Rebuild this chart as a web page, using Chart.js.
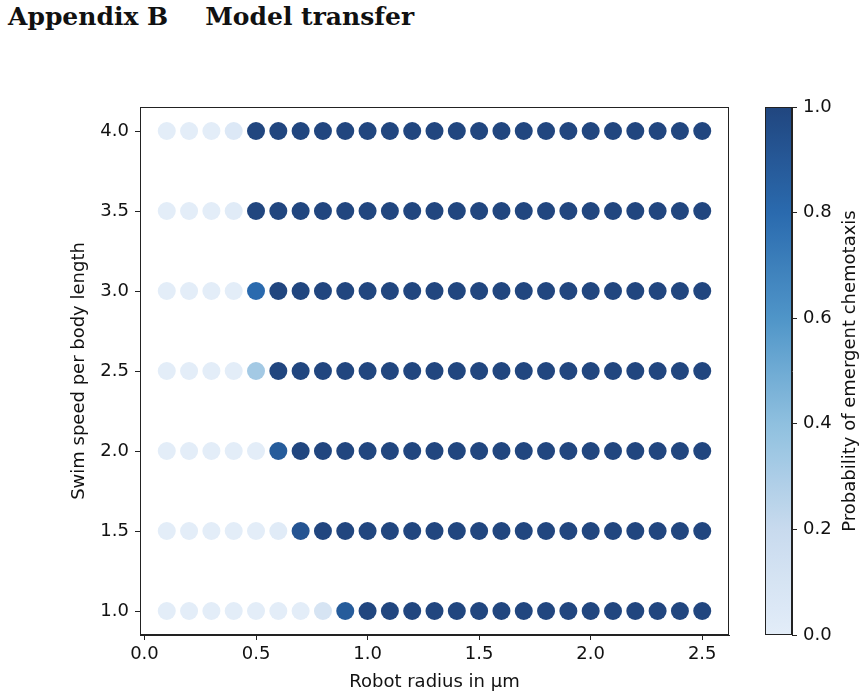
<!DOCTYPE html>
<html>
<head>
<meta charset="utf-8">
<script src="https://cdn.jsdelivr.net/npm/chart.js@4/dist/chart.umd.min.js"></script>
<style>
  body { margin: 0; background: #fff; width: 865px; height: 697px; position: relative; overflow: hidden; }
  #heading { position: absolute; left: 8px; top: 2px; margin: 0; font: bold 25px "DejaVu Serif", serif; color: #111; white-space: nowrap; }
  #heading span { margin-right: 37px; }
  #main { position: absolute; left: 0; top: 0; }
  #cbar { position: absolute; left: 740px; top: 0; }
</style>
</head>
<body>
<h1 id="heading"><span>Appendix B</span>Model transfer</h1>
<canvas id="main" width="760" height="697"></canvas>
<canvas id="cbar" width="125" height="697"></canvas>
<script>
// robot radius (x) and swim speed (y)
var radius = [0.1,0.2,0.3,0.4,0.5,0.6,0.7,0.8,0.9,1.0,1.1,1.2,1.3,1.4,1.5,1.6,1.7,1.8,1.9,2.0,2.1,2.2,2.3,2.4,2.5];
var speeds = [1.0,1.5,2.0,2.5,3.0,3.5,4.0];
// probability of emergent chemotaxis, one row per swim speed
var p10 = [0,0,0,0,0,0,0,0.1,0.88,1,1,1,1,1,1,1,1,1,1,1,1,1,1,1,1];
var p15 = [0,0,0,0,0,0.02,0.92,1,1,1,1,1,1,1,1,1,1,1,1,1,1,1,1,1,1];
var p20 = [0,0,0,0,0,0.88,1,1,1,1,1,1,1,1,1,1,1,1,1,1,1,1,1,1,1];
var p25 = [0,0,0,0,0.33,1,1,1,1,1,1,1,1,1,1,1,1,1,1,1,1,1,1,1,1];
var p30 = [0,0,0,0,0.8,1,1,1,1,1,1,1,1,1,1,1,1,1,1,1,1,1,1,1,1];
var p35 = [0,0,0,0.02,1,1,1,1,1,1,1,1,1,1,1,1,1,1,1,1,1,1,1,1,1];
var p40 = [0,0,0,0.05,1,1,1,1,1,1,1,1,1,1,1,1,1,1,1,1,1,1,1,1,1];
var probRows = [p10, p15, p20, p25, p30, p35, p40];
// tick labels
var xTicks = [0.0,0.5,1.0,1.5,2.0,2.5];
var yTicks = [1.0,1.5,2.0,2.5,3.0,3.5,4.0];
var cbTicks = [0.0,0.2,0.4,0.6,0.8,1.0];

// blues colormap as seen in the colorbar
var cmapStops = [
  [0.0, [227,237,248]],
  [0.2, [200,218,238]],
  [0.4, [143,192,223]],
  [0.6, [79,149,200]],
  [0.8, [42,106,174]],
  [1.0, [33,70,127]]
];
function cmap(v){
  for (var i = 1; i < cmapStops.length; i++){
    if (v <= cmapStops[i][0]){
      var a = cmapStops[i-1], b = cmapStops[i];
      var t = (v - a[0]) / (b[0] - a[0]);
      var c = a[1].map(function(x, k){ return Math.round(x + (b[1][k] - x) * t); });
      return 'rgb(' + c.join(',') + ')';
    }
  }
  return 'rgb(' + cmapStops[cmapStops.length-1][1].join(',') + ')';
}

var points = [];
speeds.forEach(function(s, r){
  radius.forEach(function(x, c){
    points.push({x: x, y: s, p: probRows[r][c]});
  });
});

var font = {family: 'DejaVu Sans', size: 18};
Chart.defaults.color = '#111';

var frame = {
  id: 'frame',
  afterDraw: function(chart){
    var a = chart.chartArea, ctx = chart.ctx;
    ctx.save();
    ctx.strokeStyle = '#222';
    ctx.lineWidth = 1;
    ctx.strokeRect(Math.round(a.left) + 0.5, Math.round(a.top) + 0.5, Math.round(a.right - a.left) - 1, Math.round(a.bottom - a.top) - 1);
    ctx.restore();
  }
};

var mainChart = new Chart(document.getElementById('main'), {
  type: 'scatter',
  data: {
    datasets: [{
      data: points,
      pointRadius: 9,
      pointHoverRadius: 9,
      borderWidth: 0,
      backgroundColor: function(c){ return c.raw ? cmap(c.raw.p) : '#000'; }
    }]
  },
  options: {
    responsive: false,
    animation: false,
    layout: {padding: {top: 107, left: 62, right: 31, bottom: 4}},
    plugins: {legend: {display: false}, tooltip: {enabled: false}},
    scales: {
      x: {
        type: 'linear', min: -0.02, max: 2.62,
        afterBuildTicks: function(s){ s.ticks = xTicks.map(function(v){ return {value: v}; }); },
        afterFit: function(s){ s.height = 58; },
        grid: {drawOnChartArea: false, color: '#222', tickColor: '#222', tickLength: 5},
        border: {color: '#222'},
        ticks: {font: font, color: '#111', padding: 4, maxRotation: 0, callback: function(v){ return v.toFixed(1); }},
        title: {display: true, text: 'Robot radius in µm', font: font, color: '#111', padding: {top: 0, bottom: 0}}
      },
      y: {
        type: 'linear', min: 0.85, max: 4.15,
        afterBuildTicks: function(s){ s.ticks = yTicks.map(function(v){ return {value: v}; }); },
        afterFit: function(s){ s.width = 78; },
        grid: {drawOnChartArea: false, color: '#222', tickColor: '#222', tickLength: 5},
        border: {color: '#222'},
        ticks: {font: font, color: '#111', padding: 6, callback: function(v){ return v.toFixed(1); }},
        title: {display: true, text: 'Swim speed per body length', font: font, color: '#111', padding: {top: 7, bottom: 0}}
      }
    }
  },
  plugins: [frame]
});

var cbTitle = {
  id: 'cbTitle',
  afterDraw: function(chart){
    var a = chart.chartArea, ctx = chart.ctx;
    ctx.save();
    ctx.translate(110, (a.top + a.bottom) / 2);
    ctx.rotate(-Math.PI / 2);
    ctx.font = '18px "DejaVu Sans"';
    ctx.fillStyle = '#111';
    ctx.textAlign = 'center';
    ctx.textBaseline = 'middle';
    ctx.fillText('Probability of emergent chemotaxis', 0, 0);
    ctx.restore();
  }
};

var colorBar = new Chart(document.getElementById('cbar'), {
  type: 'bar',
  data: {
    labels: ['p'],
    datasets: [{
      data: [[cbTicks[0], cbTicks[cbTicks.length-1]]],
      barPercentage: 1,
      categoryPercentage: 1,
      borderWidth: 0,
      backgroundColor: function(c){
        var a = c.chart.chartArea;
        if (!a) return null;
        var g = c.chart.ctx.createLinearGradient(0, a.bottom, 0, a.top);
        for (var i = 0; i <= 20; i++){ g.addColorStop(i / 20, cmap(i / 20)); }
        return g;
      }
    }]
  },
  options: {
    responsive: false,
    animation: false,
    layout: {padding: {top: 107, left: 25, right: 0, bottom: 62}},
    plugins: {legend: {display: false}, tooltip: {enabled: false}},
    scales: {
      x: {display: false},
      y: {
        position: 'right', min: 0, max: 1,
        afterBuildTicks: function(s){ s.ticks = cbTicks.map(function(v){ return {value: v}; }); },
        afterFit: function(s){ s.width = 73; },
        grid: {drawOnChartArea: false, color: '#222', tickColor: '#222', tickLength: 5},
        border: {color: '#222'},
        ticks: {font: font, color: '#111', padding: 6, callback: function(v){ return v.toFixed(1); }}
      }
    }
  },
  plugins: [frame, cbTitle]
});
</script>
</body>
</html>
